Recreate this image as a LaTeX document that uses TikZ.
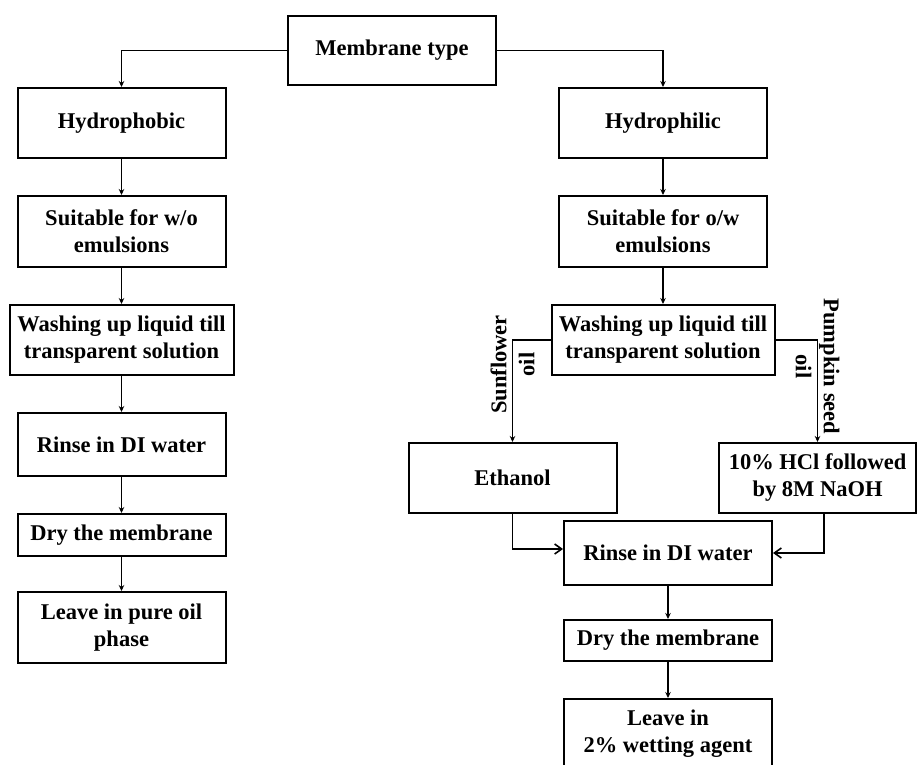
\documentclass[tikz,border=0pt]{standalone}
\usepackage{fontspec}
\setmainfont{Liberation Serif}
\usetikzlibrary{arrows.meta, positioning}

\begin{document}
\begin{tikzpicture}[
  x=1pt, y=-1pt,
  node distance=36pt,
  box/.style={rectangle, draw=black, line width=2pt, minimum width=208pt, minimum height=70pt, inner sep=2pt, align=center, font=\fontsize{22.5}{27}\selectfont\bfseries},
  lbl/.style={align=center, inner sep=0pt, font=\fontsize{22.5}{28}\selectfont\bfseries},
  arrow/.style={line width=1.6pt, -{Stealth[length=6pt, width=5.5pt]}},
  open_arrow/.style={line width=1.6pt, -{Straight Barb[length=7pt, width=10pt]}}
]
\useasboundingbox (0,0) rectangle (919,765);

% Top
\node (mem) [box, minimum height=69pt] at (392,50.5) {Membrane type};

% Hydrophobic branch
\node (hphob) [box] at (121.5,123) {Hydrophobic};
\node (suitL) [box, minimum height=71pt, below=of hphob] {Suitable for w/o\\emulsions};
\node (washL) [box, minimum width=224pt, below=of suitL] {Washing up liquid till\\transparent solution};
\node (rinseL) [box, minimum height=63pt, below=of washL] {Rinse in DI water};
\node (dryL) [box, minimum height=42pt, below=of rinseL] {Dry the membrane};
\node (leaveL) [box, minimum height=71pt, below=34pt of dryL] {Leave in pure oil\\phase};

% Hydrophilic branch
\node (hphil) [box] at (663,123) {Hydrophilic};
\node (suitR) [box, minimum height=71pt, below=of hphil] {Suitable for o/w\\emulsions};
\node (washR) [box, minimum width=223pt, below=of suitR] {Washing up liquid till\\transparent solution};
\node (eth) [box] at (512.5,478) {Ethanol};
\node (hcl) [box, minimum width=197pt] at (817.5,478) {10\% HCl followed\\by 8M NaOH};
\node (rinseR) [box, minimum height=64pt] at (668,553) {Rinse in DI water};
\node (dryR) [box, minimum height=41pt, below=33pt of rinseR] {Dry the membrane};
\node (leaveR) [box, below=of dryR] {Leave in\\2\% wetting agent};

% Arrows
\draw [arrow] (mem.west) -| (hphob.north);
\draw [arrow] (mem.east) -| (hphil.north);
\draw [arrow] (hphob) -- (suitL);
\draw [arrow] (suitL) -- (washL);
\draw [arrow] (washL) -- (rinseL);
\draw [arrow] (rinseL) -- (dryL);
\draw [arrow] (dryL) -- (leaveL);
\draw [arrow] (hphil) -- (suitR);
\draw [arrow] (suitR) -- (washR);
\draw [arrow] (washR.west) -| (eth.north) node[lbl, rotate=90, pos=0.62] {Sunflower\\oil};
\draw [arrow] (washR.east) -| (hcl.north) node[lbl, rotate=-90, pos=0.62, xshift=2pt] {Pumpkin seed\\oil};
\draw [open_arrow] (eth.south) |- ([yshift=4pt]rinseR.west);
\draw [open_arrow] ([xshift=6.5pt]hcl.south) |- (rinseR.east);
\draw [arrow] (rinseR) -- (dryR);
\draw [arrow] (dryR) -- (leaveR);
\end{tikzpicture}
\end{document}
